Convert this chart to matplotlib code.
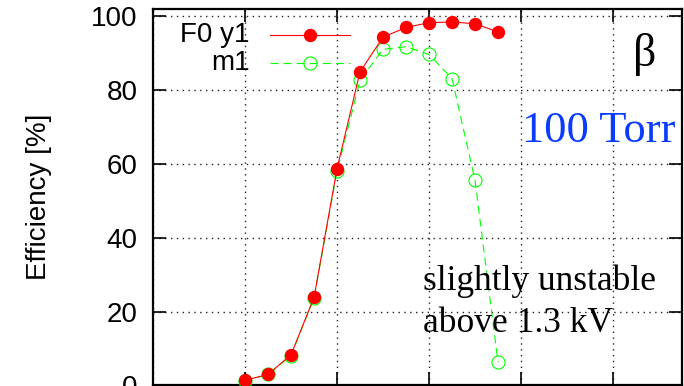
import matplotlib
matplotlib.use('Agg')
from matplotlib import pyplot as plt

# anode voltage [kV] and efficiency [%] for the two channels
voltage = [1.100, 1.125, 1.150, 1.175, 1.200, 1.225,
           1.250, 1.275, 1.300, 1.325, 1.350, 1.375]
eff_f0y1 = [1.4, 3.0, 8.3, 23.8, 58.6, 84.8,
            94.2, 96.8, 98.1, 98.3, 97.8, 95.6]
eff_m1 = [1.2, 3.0, 8.1, 23.6, 57.9, 82.5,
          90.9, 91.6, 89.5, 83.0, 55.5, 6.3]

xticks = [1.0, 1.1, 1.2, 1.3, 1.4, 1.5]
yticks = [0, 20, 40, 60, 80, 100]

plt.rcParams['font.family'] = ['Liberation Sans', 'DejaVu Sans']
plt.rcParams['lines.scale_dashes'] = False

fig = plt.figure(figsize=(6.84, 3.86), dpi=100)
ax = fig.add_axes([0.2237, 0.0013, 0.9971 - 0.2237, 0.9767 - 0.0013])

red = '#ff0000'
green = '#00ff00'

ax.plot(voltage, eff_f0y1, color=red, lw=0.8, marker='o', ms=8.6,
        mfc=red, mec=red, zorder=4)
ax.plot(voltage, eff_m1, color=green, lw=0.8, ls=(0, (5.8, 3.6)),
        marker='o', ms=9.4, mfc='none', mec=green, mew=0.8, zorder=3)

ax.set_xlim(1.0, 1.575)
ax.set_ylim(0, 101.8)
ax.set_xticks(xticks)
ax.set_yticks(yticks)
ax.set_xticklabels([])
ax.grid(True, color='#222222', ls=(0, (1, 3.2)), lw=1.0)
ax.tick_params(direction='in', length=9.5, width=1.2, top=True, right=True,
               labelsize=20, pad=11)
for sp in ax.spines.values():
    sp.set_linewidth(1.6)

ax.set_ylabel('Efficiency [%]', fontsize=20)
ax.yaxis.set_label_coords(-0.19, 0.5)

# key in the upper left corner
for ty, lab, kw in [(0.931, 'F0 y1', dict(color=red, lw=0.8, marker='o', ms=8.6, mfc=red, mec=red)),
                    (0.857, 'm1', dict(color=green, lw=0.8, ls=(0, (5.8, 3.6)), marker='o',
                                       ms=9.4, mfc='none', mec=green, mew=0.8))]:
    ax.text(0.183, ty, lab, transform=ax.transAxes, ha='right', va='center', fontsize=20)
    ax.plot([0.221, 0.372], [ty, ty], transform=ax.transAxes, markevery=[], **kw)
    ax.plot([0.297], [ty], transform=ax.transAxes, **kw)

serif = ['Liberation Serif', 'DejaVu Serif']
ax.text(0.930, 0.878, '\u03b2', transform=ax.transAxes, ha='center', va='center',
        fontsize=33, family=serif)
ax.text(0.987, 0.6475, '100 Torr', transform=ax.transAxes, ha='right', va='baseline',
        fontsize=32, family=serif, color='#0a3cff')
ax.text(0.510, 0.2537, 'slightly unstable', transform=ax.transAxes, ha='left',
        va='baseline', fontsize=25.5, family=serif)
ax.text(0.510, 0.1429, 'above 1.3 kV', transform=ax.transAxes, ha='left',
        va='baseline', fontsize=25.5, family=serif)

fig.savefig('out.png', dpi=100)
